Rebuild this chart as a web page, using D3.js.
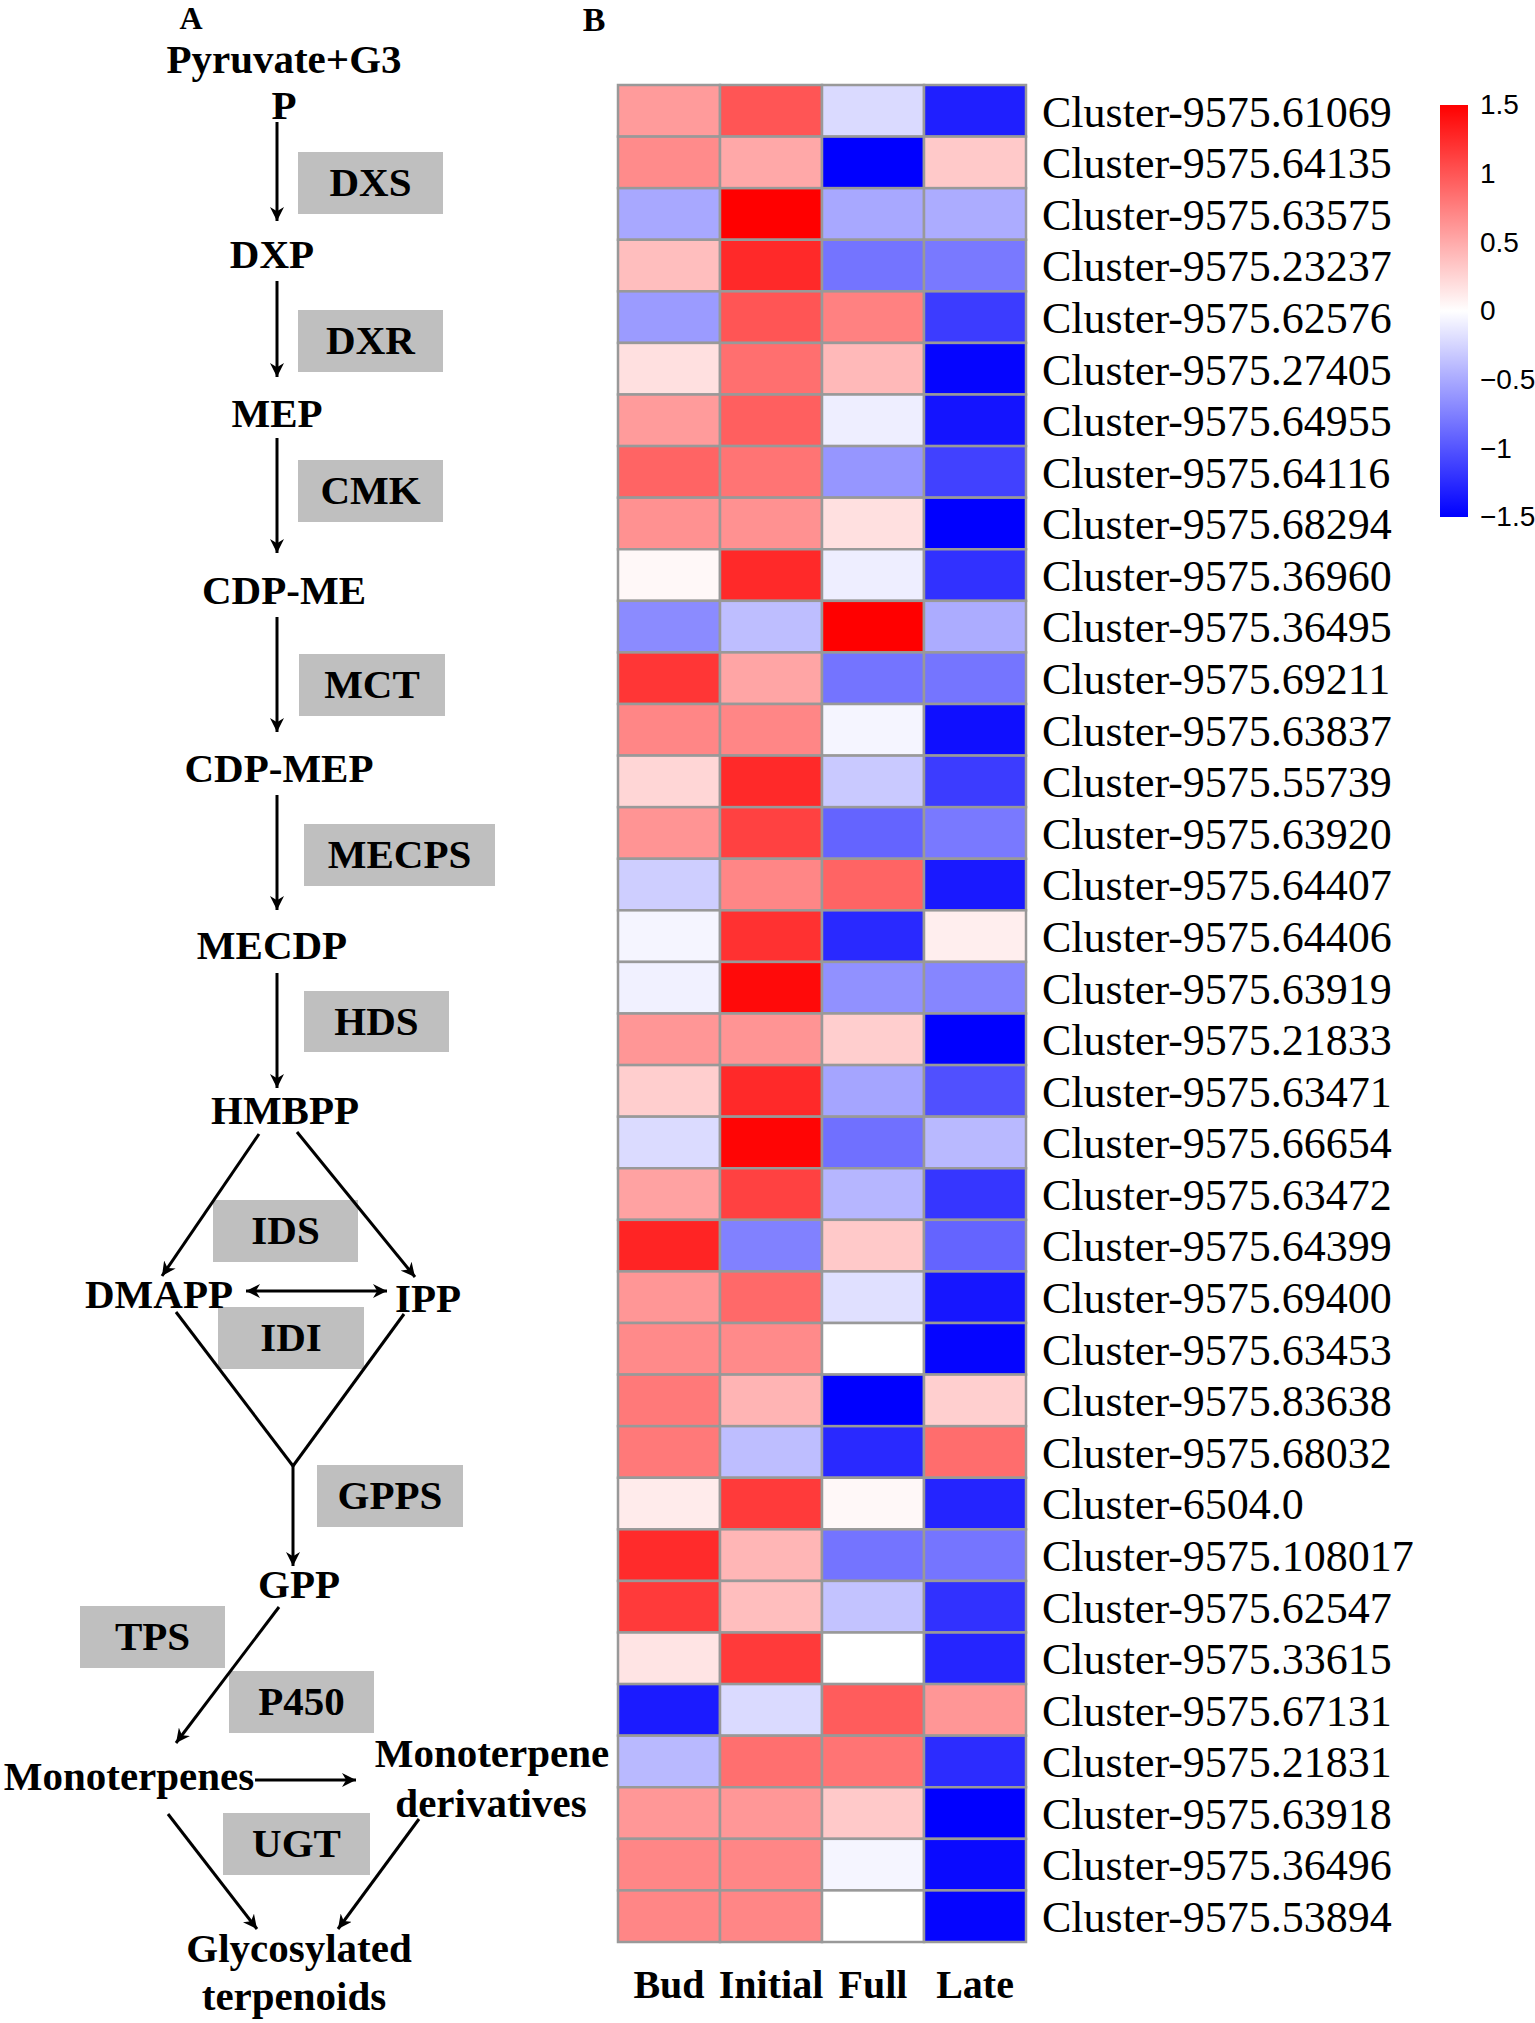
<!DOCTYPE html>
<html>
<head>
<meta charset="utf-8">
<script src="https://cdn.jsdelivr.net/npm/d3@7"></script>
<style>
  body { margin: 0; background: #fff; }
  svg { display: block; }
  .serif { font-family: "Liberation Serif", "Times New Roman", serif; }
  .bold { font-weight: bold; }
  .sans { font-family: "Liberation Sans", Arial, sans-serif; }
</style>
</head>
<body>
<div id="chart"></div>
<script>
// ---- heatmap data ----
var stages = ["Bud", "Initial", "Full", "Late"];

var genes = [
  "Cluster-9575.61069", "Cluster-9575.64135", "Cluster-9575.63575", "Cluster-9575.23237",
  "Cluster-9575.62576", "Cluster-9575.27405", "Cluster-9575.64955", "Cluster-9575.64116",
  "Cluster-9575.68294", "Cluster-9575.36960", "Cluster-9575.36495", "Cluster-9575.69211",
  "Cluster-9575.63837", "Cluster-9575.55739", "Cluster-9575.63920", "Cluster-9575.64407",
  "Cluster-9575.64406", "Cluster-9575.63919", "Cluster-9575.21833", "Cluster-9575.63471",
  "Cluster-9575.66654", "Cluster-9575.63472", "Cluster-9575.64399", "Cluster-9575.69400",
  "Cluster-9575.63453", "Cluster-9575.83638", "Cluster-9575.68032", "Cluster-6504.0",
  "Cluster-9575.108017", "Cluster-9575.62547", "Cluster-9575.33615", "Cluster-9575.67131",
  "Cluster-9575.21831", "Cluster-9575.63918", "Cluster-9575.36496", "Cluster-9575.53894"
];

var budValues = [
  0.59, 0.68, -0.51, 0.38, -0.59, 0.18, 0.59, 0.91, 0.65, 0.04, -0.68, 1.18,
  0.71, 0.24, 0.63, -0.29, -0.06, -0.08, 0.62, 0.29, -0.21, 0.55, 1.29, 0.62,
  0.69, 0.79, 0.79, 0.12, 1.25, 1.16, 0.16, -1.34, -0.41, 0.61, 0.71, 0.71
];
var initialValues = [
  1.00, 0.51, 1.50, 1.26, 1.00, 0.85, 0.94, 0.82, 0.65, 1.26, -0.38, 0.53,
  0.71, 1.26, 1.12, 0.71, 1.21, 1.44, 0.63, 1.26, 1.47, 1.12, -0.74, 0.88,
  0.69, 0.44, -0.38, 1.16, 0.43, 0.38, 1.16, -0.22, 0.85, 0.61, 0.71, 0.71
];
var fullValues = [
  -0.22, -1.50, -0.51, -0.82, 0.74, 0.41, -0.10, -0.62, 0.18, -0.10, 1.50, -0.82,
  -0.06, -0.32, -0.91, 0.91, -1.26, -0.65, 0.29, -0.53, -0.84, -0.43, 0.32, -0.18,
  0.00, -1.50, -1.26, 0.04, -0.82, -0.35, 0.00, 0.96, 0.82, 0.32, -0.06, 0.00
];
var lateValues = [
  -1.32, 0.32, -0.49, -0.79, -1.15, -1.47, -1.38, -1.12, -1.50, -1.21, -0.49, -0.81,
  -1.41, -1.15, -0.79, -1.35, 0.10, -0.71, -1.50, -1.03, -0.41, -1.18, -0.91, -1.37,
  -1.47, 0.28, 0.86, -1.29, -0.81, -1.21, -1.28, 0.62, -1.24, -1.50, -1.44, -1.47
];

var legendTicks = [1.5, 1, 0.5, 0, -0.5, -1, -1.5];

// ---- pathway labels ----
var metabolites = ["Pyruvate+G3", "P", "DXP", "MEP", "CDP-ME", "CDP-MEP", "MECDP", "HMBPP",
  "DMAPP", "IPP", "GPP", "Monoterpenes", "Monoterpene", "derivatives", "Glycosylated", "terpenoids"];
var enzymes = ["DXS", "DXR", "CMK", "MCT", "MECPS", "HDS", "IDS", "IDI", "GPPS", "TPS", "P450", "UGT"];

/////////////////////////////

var svgWidth = 1535;
var svgHeight = 2023;

var svg = d3.select("#chart")
  .append("svg")
  .attr("width", svgWidth)
  .attr("height", svgHeight);

svg.append("rect")
  .attr("width", svgWidth)
  .attr("height", svgHeight)
  .attr("fill", "#fff");

// panel letters
svg.append("text").attr("class", "serif bold").attr("x", 191).attr("y", 29)
  .attr("text-anchor", "middle").attr("font-size", 32).text("A");
svg.append("text").attr("class", "serif bold").attr("x", 594).attr("y", 31)
  .attr("text-anchor", "middle").attr("font-size", 34).text("B");

// ---------------- panel A : pathway ----------------
var defs = svg.append("defs");
defs.append("marker")
  .attr("id", "head")
  .attr("viewBox", "0 0 10 10")
  .attr("refX", 10).attr("refY", 5)
  .attr("markerWidth", 14).attr("markerHeight", 14)
  .attr("markerUnits", "userSpaceOnUse")
  .attr("orient", "auto-start-reverse")
  .append("path")
  .attr("d", "M0,0 L10,5 L0,10 L3,5 Z")
  .attr("fill", "#000");

// where each metabolite label sits (centre x, baseline y)
var nodeLayout = [
  [284, 73], [284, 119], [272, 268], [277, 427], [284, 604], [279, 782], [272, 959], [285, 1124],
  [159, 1308], [428, 1312], [299, 1598], [129, 1790], [492, 1767], [491, 1817], [299, 1962], [294, 2010]
];
// enzyme boxes: x0, y0, x1, y1
var boxLayout = [
  [298, 152, 443, 214], [298, 310, 443, 372], [298, 460, 443, 522], [299, 654, 445, 716],
  [304, 824, 495, 886], [304, 991, 449, 1052], [213, 1200, 358, 1262], [218, 1307, 364, 1369],
  [317, 1465, 463, 1527], [80, 1606, 225, 1668], [229, 1671, 374, 1733], [223, 1813, 370, 1875]
];
// edges: x1, y1, x2, y2, arrow type (0 none, 1 end, 2 both)
var edgeLayout = [
  [277, 122, 277, 221, 1], [277, 281, 277, 377, 1], [277, 438, 277, 553, 1],
  [277, 617, 277, 732, 1], [277, 795, 277, 910, 1], [277, 973, 277, 1088, 1],
  [259, 1134, 162, 1276, 1], [297, 1132, 415, 1277, 1], [246, 1291, 387, 1291, 2],
  [176, 1312, 293, 1466, 0], [404, 1314, 293, 1466, 0], [293, 1466, 293, 1566, 1],
  [279, 1607, 176, 1743, 1], [255, 1780, 356, 1780, 1],
  [168, 1814, 257, 1929, 1], [419, 1819, 338, 1929, 1]
];

var pathway = svg.append("g");

pathway.selectAll(".enzyme-box")
  .data(enzymes)
  .enter()
  .append("rect")
  .attr("class", "enzyme-box")
  .attr("x", (d, i) => boxLayout[i][0])
  .attr("y", (d, i) => boxLayout[i][1])
  .attr("width", (d, i) => boxLayout[i][2] - boxLayout[i][0])
  .attr("height", (d, i) => boxLayout[i][3] - boxLayout[i][1])
  .attr("fill", "#bfbfbf");

pathway.selectAll(".enzyme-text")
  .data(enzymes)
  .enter()
  .append("text")
  .attr("class", "enzyme-text serif bold")
  .attr("x", (d, i) => (boxLayout[i][0] + boxLayout[i][2]) / 2)
  .attr("y", (d, i) => (boxLayout[i][1] + boxLayout[i][3]) / 2 + 13)
  .attr("text-anchor", "middle")
  .attr("font-size", 41)
  .text(d => d);

pathway.selectAll(".edge")
  .data(edgeLayout)
  .enter()
  .append("line")
  .attr("class", "edge")
  .attr("x1", d => d[0]).attr("y1", d => d[1])
  .attr("x2", d => d[2]).attr("y2", d => d[3])
  .attr("stroke", "#000")
  .attr("stroke-width", 3)
  .attr("marker-end", d => d[4] > 0 ? "url(#head)" : null)
  .attr("marker-start", d => d[4] > 1 ? "url(#head)" : null);

pathway.selectAll(".metabolite")
  .data(metabolites)
  .enter()
  .append("text")
  .attr("class", "metabolite serif bold")
  .attr("x", (d, i) => nodeLayout[i][0])
  .attr("y", (d, i) => nodeLayout[i][1])
  .attr("text-anchor", "middle")
  .attr("font-size", 41)
  .text(d => d);

// ---------------- panel B : heatmap ----------------
var hm = { left: 618, top: 85, width: 408, height: 1857 };

var cells = [];
genes.forEach(function(g, i) {
  [budValues, initialValues, fullValues, lateValues].forEach(function(series, j) {
    cells.push({ gene: g, stage: stages[j], value: series[i] });
  });
});

var xScale = d3.scaleBand().domain(stages).range([hm.left, hm.left + hm.width]);
var yScale = d3.scaleBand().domain(genes).range([hm.top, hm.top + hm.height]);

var colorScale = d3.scaleLinear()
  .domain([-1.5, 0, 1.5])
  .range(["#0000ff", "#ffffff", "#ff0000"])
  .clamp(true);

var heat = svg.append("g");

heat.selectAll(".cell")
  .data(cells)
  .enter()
  .append("rect")
  .attr("class", "cell")
  .attr("x", d => xScale(d.stage))
  .attr("y", d => yScale(d.gene))
  .attr("width", xScale.bandwidth())
  .attr("height", yScale.bandwidth())
  .attr("fill", d => colorScale(d.value))
  .attr("stroke", "#999")
  .attr("stroke-width", 2.5);

// row labels on the right
var rightAxis = d3.axisRight(yScale).tickSize(0).tickPadding(16);
var rowAxis = svg.append("g")
  .attr("transform", `translate(${hm.left + hm.width}, 0)`)
  .call(rightAxis);
rowAxis.select(".domain").remove();
rowAxis.selectAll("text")
  .attr("class", "serif")
  .attr("font-size", 44)
  .attr("fill", "#000")
  .attr("dy", "0.36em");

// column labels at the bottom
var bottomAxis = d3.axisBottom(xScale).tickSize(0).tickPadding(0);
var colAxis = svg.append("g")
  .attr("transform", `translate(0, ${hm.top + hm.height})`)
  .call(bottomAxis);
colAxis.select(".domain").remove();
colAxis.selectAll("text")
  .attr("class", "serif bold")
  .attr("font-size", 40)
  .attr("fill", "#000")
  .attr("y", 56)
  .attr("dy", 0);

// colour legend
var legend = { x: 1440, y: 105, w: 28, h: 412 };
var legendScale = d3.scaleLinear().domain([1.5, -1.5]).range([legend.y, legend.y + legend.h]);

var grad = defs.append("linearGradient")
  .attr("id", "legendGrad")
  .attr("x1", 0).attr("y1", 0).attr("x2", 0).attr("y2", 1);
d3.range(0, 1.0001, 0.05).forEach(function(t) {
  grad.append("stop")
    .attr("offset", t)
    .attr("stop-color", colorScale(legendScale.invert(legend.y + t * legend.h)));
});

svg.append("rect")
  .attr("x", legend.x)
  .attr("y", legend.y)
  .attr("width", legend.w)
  .attr("height", legend.h)
  .attr("fill", "url(#legendGrad)");

var legendAxis = d3.axisRight(legendScale)
  .tickValues(legendTicks)
  .tickSize(0)
  .tickPadding(12)
  .tickFormat(d => d3.format("")(d).replace("-", "\u2212"));

var lg = svg.append("g")
  .attr("transform", `translate(${legend.x + legend.w}, 0)`)
  .call(legendAxis);
lg.select(".domain").remove();
lg.selectAll("text")
  .attr("class", "sans")
  .attr("font-size", 28)
  .attr("fill", "#000");
</script>
</body>
</html>
